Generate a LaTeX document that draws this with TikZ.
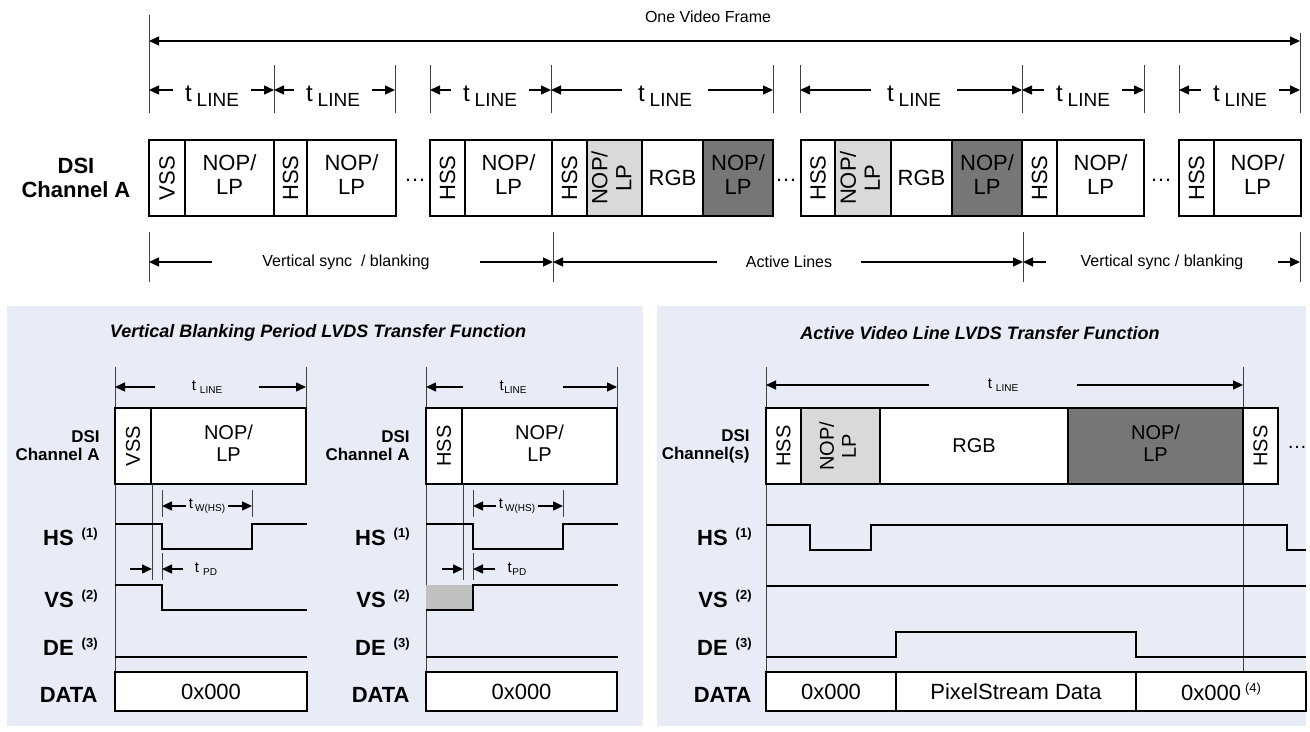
\documentclass[tikz,border=0pt]{standalone}
\usepackage{fontspec}
\setmainfont{Liberation Sans}
\usepackage{graphicx}
\usetikzlibrary{arrows.meta}

\definecolor{panelbg}{RGB}{232,236,247}
\definecolor{lightnop}{RGB}{217,217,217}
\definecolor{darknop}{RGB}{118,118,118}
\definecolor{vsgray}{RGB}{192,192,192}

\newcommand{\bigfont}{\fontsize{11}{12}\selectfont}
\newcommand{\midfont}{\fontsize{10}{11}\selectfont}
\newcommand{\twoline}[2]{\begin{tabular}{@{}c@{}}#1\\#2\end{tabular}}
\newcommand{\tline}[1]{{\fontsize{12}{12}\selectfont t}\hspace{2.5pt}\raisebox{-2.5pt}{\fontsize{9.5}{9.5}\selectfont #1}}
\newcommand{\tsmall}[2]{{\fontsize{7.5}{7.5}\selectfont t}\hspace{#1}\raisebox{-1.5pt}{\fontsize{5}{5}\selectfont #2}}
\newcommand{\sigsup}[2]{#1\hspace{4pt}\raisebox{4pt}{\fontsize{6.5}{6.5}\selectfont #2}}

\begin{document}
\begin{tikzpicture}[x=0.5pt, y=-0.5pt,
		cell/.style={draw, fill=white, line width=1pt, minimum height=38pt, inner sep=0pt, font=\bigfont},
		pcell/.style={cell, font=\midfont},
		dcell/.style={draw, fill=white, line width=1pt, minimum height=19.5pt, inner sep=0pt, font=\bigfont},
		dim/.style={-{Triangle[length=5pt,width=4.5pt]}, line width=0.7pt},
		dimboth/.style={dim, {Triangle[length=5pt,width=4.5pt]}-{Triangle[length=5pt,width=4.5pt]}},
		tick/.style={line width=0.5pt, black!75},
		wave/.style={line width=1pt},
		lbl/.style={inner sep=0pt, font=\fontsize{8}{9}\selectfont},
		tlbl/.style={inner ysep=0pt},
		sig/.style={anchor=base east, inner sep=0pt, font=\bfseries\bigfont},
		dsi/.style={anchor=east, align=right, inner sep=0pt, font=\bfseries\fontsize{8.5}{9}\selectfont},
		ttl/.style={font=\bfseries\itshape\fontsize{9}{10}\selectfont}]

		\useasboundingbox (0,0) rectangle (1310,732);

		% one video frame
		\node[lbl] (frame) at (708,17) {One Video Frame};
		\coordinate (f0) at (149,41);
		\coordinate (f1) at (1300,41);
		\draw[dimboth] (f0) -- (f1);
		\draw[tick] (149,15) -- (149,113);
		\draw[tick] (1300,33) -- (1300,113);

		% line periods
		\draw[tick] (274,65) -- (274,113);
		\draw[tick] (395,65) -- (395,113);
		\draw[tick] (430,65) -- (430,113);
		\draw[tick] (551,65) -- (551,113);
		\draw[tick] (773,65) -- (773,113);
		\draw[tick] (800,65) -- (800,113);
		\draw[tick] (1022,65) -- (1022,113);
		\draw[tick] (1144,65) -- (1144,113);
		\draw[tick] (1179,65) -- (1179,113);

		\coordinate (a0) at (149,90);
		\coordinate (a1) at (274,90);
		\coordinate (a2) at (395,90);
		\coordinate (a3) at (430,90);
		\coordinate (a4) at (551,90);
		\coordinate (a5) at (773,90);
		\coordinate (a6) at (800,90);
		\coordinate (a7) at (1022,90);
		\coordinate (a8) at (1144,90);
		\coordinate (a9) at (1179,90);
		\coordinate (a10) at (1300,90);

		\node[tlbl, inner xsep=6pt] (tl1) at (212,96) {\tline{LINE}};
		\node[tlbl, inner xsep=6pt] (tl2) at (333,96) {\tline{LINE}};
		\node[tlbl, inner xsep=6pt] (tl3) at (490,96) {\tline{LINE}};
		\node[tlbl, inner xsep=8pt] (tl4) at (665,96) {\tline{LINE}};
		\node[tlbl, inner xsep=8pt] (tl5) at (914,96) {\tline{LINE}};
		\node[tlbl, inner xsep=6pt] (tl6) at (1083,96) {\tline{LINE}};
		\node[tlbl, inner xsep=6pt] (tl7) at (1240,96) {\tline{LINE}};

		\draw[dim] (tl1.west |- a0) -- (a0);
		\draw[dim] (tl1.east |- a1) -- (a1);
		\draw[dim] (tl2.west |- a1) -- (a1);
		\draw[dim] (tl2.east |- a2) -- (a2);
		\draw[dim] (tl3.west |- a3) -- (a3);
		\draw[dim] (tl3.east |- a4) -- (a4);
		\draw[dim] (tl4.west |- a4) -- (a4);
		\draw[dim] (tl4.east |- a5) -- (a5);
		\draw[dim] (tl5.west |- a6) -- (a6);
		\draw[dim] (tl5.east |- a7) -- (a7);
		\draw[dim] (tl6.west |- a7) -- (a7);
		\draw[dim] (tl6.east |- a8) -- (a8);
		\draw[dim] (tl7.west |- a9) -- (a9);
		\draw[dim] (tl7.east |- a10) -- (a10);

		% DSI channel A packets
		\node[font=\bfseries\bigfont, align=center] (dsi) at (76,178) {DSI\\Channel A};

		\node[cell, minimum width=18pt] (vss1) at (167,178) {\rotatebox{90}{VSS}};
		\node[cell, minimum width=44.5pt] (nop1) at (229.5,178) {\twoline{NOP/}{LP}};
		\node[cell, minimum width=16.5pt] (hss1) at (290.5,178) {\rotatebox{90}{HSS}};
		\node[cell, minimum width=44.5pt] (nop2) at (351.5,178) {\twoline{NOP/}{LP}};
		\node (dots1) at (415,180) {\bigfont\ldots};

		\node[cell, minimum width=17.5pt] (hss2) at (447.5,178) {\rotatebox{90}{HSS}};
		\node[cell, minimum width=43.5pt] (nop3) at (508.5,178) {\twoline{NOP/}{LP}};
		\node[cell, minimum width=17.5pt] (hss3) at (569.5,178) {\rotatebox{90}{HSS}};
		\node[cell, fill=lightnop, minimum width=27.5pt] (lnop1) at (614.5,178) {\rotatebox{90}{\twoline{NOP/}{LP}}};
		\node[cell, minimum width=30.5pt] (rgb1) at (672.5,178) {RGB};
		\node[cell, fill=darknop, minimum width=35pt] (dnop1) at (738,178) {\twoline{NOP/}{LP}};
		\node (dots2) at (786,180) {\bigfont\ldots};

		\node[cell, minimum width=17pt] (hss4) at (818,178) {\rotatebox{90}{HSS}};
		\node[cell, fill=lightnop, minimum width=28pt] (lnop2) at (863,178) {\rotatebox{90}{\twoline{NOP/}{LP}}};
		\node[cell, minimum width=30.5pt] (rgb2) at (921.5,178) {RGB};
		\node[cell, fill=darknop, minimum width=35pt] (dnop2) at (987,178) {\twoline{NOP/}{LP}};
		\node[cell, minimum width=17.5pt] (hss5) at (1039.5,178) {\rotatebox{90}{HSS}};
		\node[cell, minimum width=43.5pt] (nop4) at (1100.5,178) {\twoline{NOP/}{LP}};
		\node (dots3) at (1161,180) {\bigfont\ldots};

		\node[cell, minimum width=17.5pt] (hss6) at (1196.5,178) {\rotatebox{90}{HSS}};
		\node[cell, minimum width=43.5pt] (nop5) at (1257.5,178) {\twoline{NOP/}{LP}};

		% vertical sync and active lines
		\draw[tick] (149,232) -- (149,282);
		\draw[tick] (553,232) -- (553,282);
		\draw[tick] (1023,232) -- (1023,282);
		\draw[tick] (1300,232) -- (1300,282);
		\coordinate (v0) at (149,262);
		\coordinate (v1) at (553,262);
		\coordinate (v2) at (1023,262);
		\coordinate (v3) at (1300,262);
		\node[lbl, inner xsep=25pt] (vb1) at (346,262) {Vertical sync~ / blanking};
		\node[lbl, inner xsep=14pt] (act) at (789,262) {Active Lines};
		\node[lbl, inner xsep=17pt] (vb2) at (1162,262) {Vertical sync / blanking};
		\draw[dim] (vb1.west) -- (v0);
		\draw[dim] (vb1.east) -- (v1);
		\draw[dim] (act.west) -- (v1);
		\draw[dim] (act.east) -- (v2);
		\draw[dim] (vb2.west) -- (v2);
		\draw[dim] (vb2.east) -- (v3);

		% panels
		\fill[panelbg] (7,306) rectangle (643,726);
		\fill[panelbg] (657,306) rectangle (1306,726);
		\node[ttl] (ttlv) at (318,333) {Vertical Blanking Period LVDS Transfer Function};
		\node[ttl] (ttla) at (980,333) {Active Video Line LVDS Transfer Function};

		% vertical blanking, VSS line
		\draw[tick] (115,367) -- (115,671);
		\draw[tick] (306,367) -- (306,408);
		\coordinate (b0) at (115,387);
		\coordinate (b1) at (306,387);
		\node[tlbl, inner xsep=18pt] (tp1) at (207,387) {\tsmall{2pt}{LINE}};
		\draw[dim] (tp1.west) -- (b0);
		\draw[dim] (tp1.east) -- (b1);

		\node[dsi] (dsi1) at (100,446) {DSI\\Channel A};
		\node[pcell, minimum width=18pt] (vssp) at (133,446) {\rotatebox{90}{VSS}};
		\node[pcell, minimum width=77.5pt] (nopp1) at (228.5,446) {\twoline{NOP/}{LP}};

		\draw[tick] (152,484) -- (152,580);
		\draw[tick] (162,490) -- (162,517);
		\draw[tick] (252,490) -- (252,517);
		\draw[tick] (162,553) -- (162,580);
		\coordinate (w0) at (162,506);
		\coordinate (w1) at (252,506);
		\node[tlbl, inner xsep=1.5pt] (tw1) at (207,506) {\tsmall{1pt}{W(HS)}};
		\draw[dim] (tw1.west) -- (w0);
		\draw[dim] (tw1.east) -- (w1);
		\coordinate (d0) at (130,569);
		\coordinate (d1) at (152,569);
		\coordinate (d2) at (162,569);
		\node[tlbl, inner xsep=6pt] (tpd1) at (206,569) {\tsmall{2pt}{PD}};
		\draw[dim] (d0) -- (d1);
		\draw[dim] (tpd1.west) -- (d2);

		\node[sig] (hs1) at (98,545) {\sigsup{HS}{(1)}};
		\node[sig] (vs1) at (98,607) {\sigsup{VS}{(2)}};
		\node[sig] (de1) at (98,655) {\sigsup{DE}{(3)}};
		\node[sig] (dat1) at (98,702) {DATA};
		\draw[wave] (115,524) -- (162,524) -- (162,549) -- (252,549) -- (252,524) -- (307,524);
		\draw[wave] (115,585) -- (162,585) -- (162,610) -- (307,610);
		\draw[wave] (115,657) -- (307,657);
		\node[dcell, minimum width=96pt] (data1) at (211,691.5) {0x000};

		% vertical blanking, HSS line
		\draw[tick] (426,367) -- (426,671);
		\draw[tick] (617,367) -- (617,408);
		\coordinate (b2) at (426,387);
		\coordinate (b3) at (617,387);
		\node[tlbl, inner xsep=18pt] (tp2) at (513,387) {\tsmall{0.3pt}{LINE}};
		\draw[dim] (tp2.west) -- (b2);
		\draw[dim] (tp2.east) -- (b3);

		\node[dsi] (dsi2) at (410,446) {DSI\\Channel A};
		\node[pcell, minimum width=18pt] (hssp) at (444,446) {\rotatebox{90}{HSS}};
		\node[pcell, minimum width=77.5pt] (nopp2) at (539.5,446) {\twoline{NOP/}{LP}};

		\draw[tick] (463,484) -- (463,580);
		\draw[tick] (473,490) -- (473,517);
		\draw[tick] (563,490) -- (563,517);
		\draw[tick] (473,553) -- (473,580);
		\coordinate (w2) at (473,506);
		\coordinate (w3) at (563,506);
		\node[tlbl, inner xsep=1.5pt] (tw2) at (517,506) {\tsmall{1pt}{W(HS)}};
		\draw[dim] (tw2.west) -- (w2);
		\draw[dim] (tw2.east) -- (w3);
		\coordinate (d3) at (442,569);
		\coordinate (d4) at (463,569);
		\coordinate (d5) at (473,569);
		\node[tlbl, inner xsep=6pt] (tpd2) at (517,569) {\tsmall{0.3pt}{PD}};
		\draw[dim] (d3) -- (d4);
		\draw[dim] (tpd2.west) -- (d5);

		\node[sig] (hs2) at (410,545) {\sigsup{HS}{(1)}};
		\node[sig] (vs2) at (410,607) {\sigsup{VS}{(2)}};
		\node[sig] (de2) at (410,655) {\sigsup{DE}{(3)}};
		\node[sig] (dat2) at (410,702) {DATA};
		\draw[wave] (426,524) -- (473,524) -- (473,549) -- (563,549) -- (563,524) -- (618,524);
		\fill[vsgray] (426,585) rectangle (473,610);
		\draw[wave] (426,610) -- (473,610) -- (473,585) -- (618,585);
		\draw[wave] (426,657) -- (618,657);
		\node[dcell, minimum width=95.5pt] (data2) at (521.5,691.5) {0x000};

		% active video line
		\draw[tick] (766,367) -- (766,672);
		\draw[tick] (1243,367) -- (1243,672);
		\coordinate (b4) at (766,385);
		\coordinate (b5) at (1243,385);
		\node[tlbl, inner xsep=29pt] (tp3) at (1003,385) {\tsmall{2pt}{LINE}};
		\draw[dim] (tp3.west) -- (b4);
		\draw[dim] (tp3.east) -- (b5);

		\node[dsi] (dsi3) at (750,446) {DSI\\Channel(s)};
		\node[pcell, minimum width=17.5pt] (hssa) at (783.5,446) {\rotatebox{90}{HSS}};
		\node[pcell, fill=lightnop, minimum width=39.5pt] (lnopa) at (840.5,446) {\rotatebox{90}{\twoline{NOP/}{LP}}};
		\node[pcell, minimum width=94pt] (rgba) at (974,446) {RGB};
		\node[pcell, fill=darknop, minimum width=87.5pt] (dnopa) at (1155.5,446) {\twoline{NOP/}{LP}};
		\node[pcell, minimum width=17.5pt] (hssb) at (1260.5,446) {\rotatebox{90}{HSS}};
		\node (dots4) at (1297,447) {\midfont\ldots};

		\node[sig] (hs3) at (752,545) {\sigsup{HS}{(1)}};
		\node[sig] (vs3) at (752,607) {\sigsup{VS}{(2)}};
		\node[sig] (de3) at (752,655) {\sigsup{DE}{(3)}};
		\node[sig] (dat3) at (752,702) {DATA};
		\draw[wave] (766,525) -- (810,525) -- (810,550) -- (871,550) -- (871,525) -- (1287,525) -- (1287,550) -- (1306,550);
		\draw[wave] (766,586) -- (1306,586);
		\draw[wave] (766,657) -- (896,657) -- (896,632) -- (1136,632) -- (1136,657) -- (1306,657);
		\node[dcell, minimum width=65pt] (data3) at (831,691.5) {0x000};
		\node[dcell, minimum width=120pt] (data4) at (1016,691.5) {PixelStream Data};
		\node[dcell, minimum width=85pt] (data5) at (1221,691.5) {0x000\hspace{2pt}\raisebox{4pt}{\fontsize{6.5}{6.5}\selectfont (4)}};
	\end{tikzpicture}
\end{document}
